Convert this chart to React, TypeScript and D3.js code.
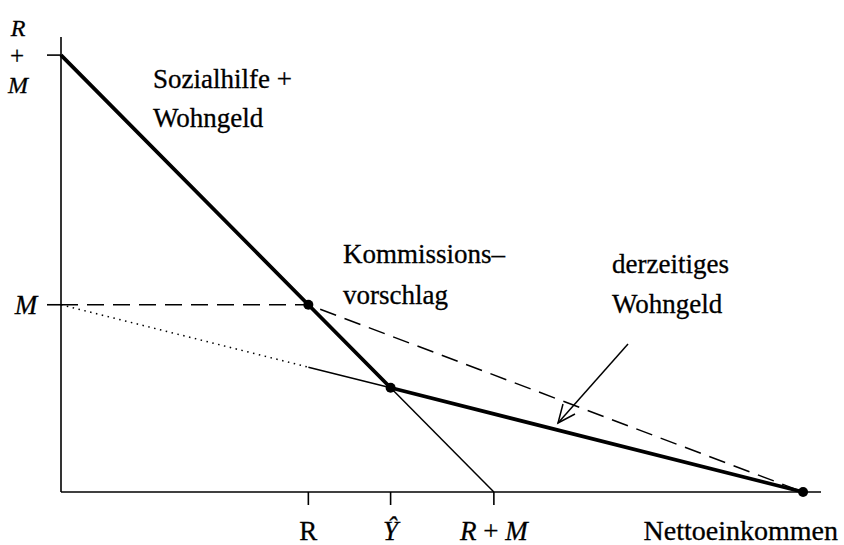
import React, { useRef, useEffect } from 'react';
import * as d3 from 'd3';

// values in units where R = 4, M = 3
const thickLine = [[0, 7], [4, 3], [5.33, 1.67], [12, 0]];
const currentLine = [[0, 3], [4, 3], [12, 0]];
const dottedLine = [[0, 3], [4, 2]];
const thinLower = [[4, 2], [5.33, 1.67]];
const thinSteep = [[5.33, 1.67], [7, 0]];
const kinkPoints = [[4, 3], [5.33, 1.67], [12, 0]];
const xTicks = [4, 5.33, 7];
const yTicks = [3, 7];

const App = () => {
  const svgRef = useRef(null);

  useEffect(() => {
    const width = 844;
    const height = 545;
    const svg = d3.select(svgRef.current);
    svg.selectAll('*').remove();
    svg.attr('width', width).attr('height', height);

    const x = d3.scaleLinear().domain([0, 12.29]).range([61, 821]);
    const y = d3.scaleLinear().domain([0, 7.29]).range([492, 37]);
    const line = d3.line().x(d => x(d[0])).y(d => y(d[1]));
    const font = 'Liberation Serif, Times New Roman, serif';

    // axes
    svg.append('line')
      .attr('x1', x(0)).attr('x2', x(0)).attr('y1', y(0)).attr('y2', y(7.29))
      .attr('stroke', '#000').attr('stroke-width', 1.6);
    svg.append('line')
      .attr('x1', x(0)).attr('x2', x(12.29)).attr('y1', y(0)).attr('y2', y(0))
      .attr('stroke', '#000').attr('stroke-width', 1.6);

    svg.append('g').selectAll('line').data(xTicks).join('line')
      .attr('x1', d => x(d)).attr('x2', d => x(d))
      .attr('y1', y(0)).attr('y2', y(0) + 13)
      .attr('stroke', '#000').attr('stroke-width', 1.6);
    svg.append('g').selectAll('line').data(yTicks).join('line')
      .attr('x1', x(0) - 14).attr('x2', x(0))
      .attr('y1', d => y(d)).attr('y2', d => y(d))
      .attr('stroke', '#000').attr('stroke-width', 1.6);

    // lines
    svg.append('path').attr('d', line(currentLine))
      .attr('fill', 'none').attr('stroke', '#000').attr('stroke-width', 1.5)
      .attr('stroke-dasharray', '17,9');
    svg.append('path').attr('d', line(dottedLine))
      .attr('fill', 'none').attr('stroke', '#000').attr('stroke-width', 1.5)
      .attr('stroke-dasharray', '1.5,4.5');
    svg.append('path').attr('d', line(thinLower))
      .attr('fill', 'none').attr('stroke', '#000').attr('stroke-width', 1.5);
    svg.append('path').attr('d', line(thinSteep))
      .attr('fill', 'none').attr('stroke', '#000').attr('stroke-width', 1.5);
    svg.append('path').attr('d', line(thickLine))
      .attr('fill', 'none').attr('stroke', '#000').attr('stroke-width', 3.8)
      .attr('stroke-linejoin', 'round');

    svg.append('g').selectAll('circle').data(kinkPoints).join('circle')
      .attr('cx', d => x(d[0])).attr('cy', d => y(d[1])).attr('r', 5)
      .attr('fill', '#000');

    // arrow
    svg.append('line')
      .attr('x1', 628).attr('y1', 344).attr('x2', 558).attr('y2', 423)
      .attr('stroke', '#000').attr('stroke-width', 1.5);
    svg.append('path')
      .attr('d', 'M 563 404 L 558 423 L 575 414')
      .attr('fill', 'none').attr('stroke', '#000').attr('stroke-width', 1.5);

    const text = (tx, ty, s, opts = {}) =>
      svg.append('text')
        .attr('x', tx).attr('y', ty)
        .attr('font-family', font)
        .attr('font-size', opts.size || 27)
        .attr('font-style', opts.italic ? 'italic' : 'normal')
        .attr('text-anchor', opts.anchor || 'start')
        .attr('fill', '#000')
        .attr('stroke', '#000').attr('stroke-width', 0.3)
        .text(s);

    // y labels: stacked "R + M"
    text(18, 36, 'R', { italic: true, anchor: 'middle', size: 24 });
    text(17, 64, '+', { anchor: 'middle', size: 25 });
    text(18, 93, 'M', { italic: true, anchor: 'middle', size: 24 });
    text(26, 314, 'M', { italic: true, anchor: 'middle' });

    // x labels
    text(x(4), 540, 'R', { anchor: 'middle' });
    text(x(5.33), 540, 'Ŷ', { italic: true, anchor: 'middle' });
    const rm = svg.append('text')
      .attr('x', x(7)).attr('y', 540).attr('text-anchor', 'middle')
      .attr('font-family', font).attr('font-size', 27).attr('fill', '#000')
      .attr('stroke', '#000').attr('stroke-width', 0.3);
    rm.append('tspan').attr('font-style', 'italic').text('R');
    rm.append('tspan').text(' + ');
    rm.append('tspan').attr('font-style', 'italic').text('M');
    text(838, 540, 'Nettoeinkommen', { anchor: 'end', size: 28 });

    // annotations
    text(153, 88, 'Sozialhilfe +');
    text(153, 127, 'Wohngeld');
    text(343, 263, 'Kommissions–');
    text(343, 304, 'vorschlag');
    text(612, 273, 'derzeitiges');
    text(612, 313, 'Wohngeld');
  }, []);

  return (
    <div style={{ position: 'absolute', left: 0, top: 0, background: '#fff' }}>
      <svg ref={svgRef} style={{ display: 'block' }}></svg>
    </div>
  );
};

export default App;
